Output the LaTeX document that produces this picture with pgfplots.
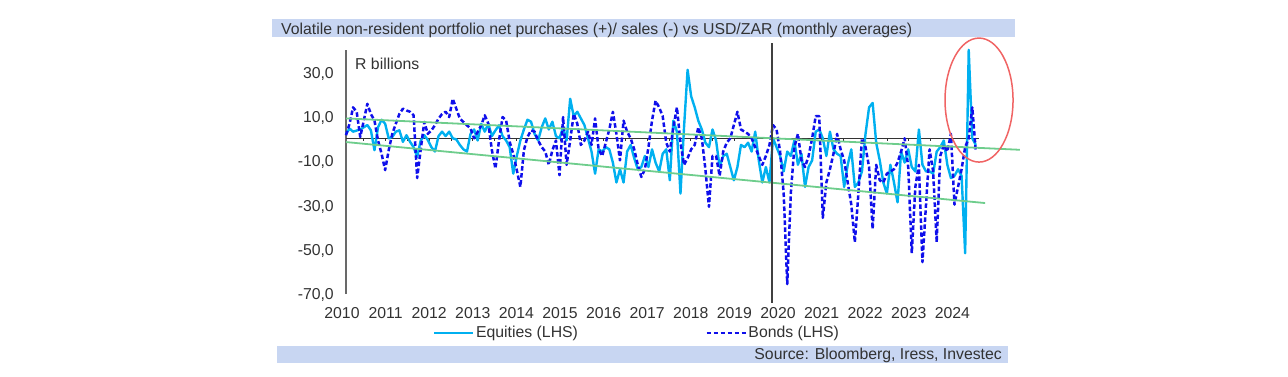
\documentclass[border=0pt]{standalone}
\usepackage{pgfplots}
\usepackage{pgfplotstable}
\pgfplotsset{compat=1.18}
\usepackage{fontspec}
\setmainfont{Liberation Sans}
\definecolor{eq}{RGB}{0,176,240}
\definecolor{bd}{RGB}{15,15,235}
\definecolor{tr}{RGB}{110,205,140}
\definecolor{barc}{RGB}{200,214,242}
\definecolor{txt}{RGB}{50,50,50}
\definecolor{ax}{RGB}{105,105,105}
\definecolor{ell}{RGB}{240,100,100}

\pgfplotstableread{
m E B
0 2 1.4
1 4.4 6.6
2 3 14
3 3.5 12
4 4 0.6
5 5 8
6 6 15.6
7 3.6 11
8 -5.4 8
9 5 -1
10 8.4 -7
11 6.6 -14.4
12 0 -5.4
13 0.6 2
14 3 6.6
15 3.6 11
16 -1.6 13.4
17 1.4 12.6
18 -1.6 12
19 -4 10.4
20 -8.4 -18
21 -1 -5
22 1.4 7.4
23 -0.8 2
24 -4 3.6
25 -6 5.9
26 1 8.9
27 3 11
28 1 12
29 3 9.6
30 0 17.9
31 -0.5 13.4
32 -3 8.9
33 -5 7.4
34 -6 5.9
35 2 4.4
36 4 0
37 -1 2.9
38 6.6 5.9
39 3 10.4
40 6.6 6.6
41 1 -5.4
42 3.6 -13.7
43 5.9 -1
44 1 9.6
45 -1 8
46 -4 -1.6
47 -16 -7
48 -8 -14.4
49 -1 -22
50 4 -5.4
51 8.4 0.6
52 7.5 3.6
53 2 3
54 -1 -1
55 5 -4
56 9 -6
57 4 -12
58 7.5 -5.4
59 1 -1
60 0 -16.7
61 5 9.6
62 -1 -12
63 17.9 -1
64 10 11
65 12 6.6
66 9 -3
67 6 -1
68 0 3
69 -6 -3
70 -16 9
71 -5 -5
72 -6 -8
73 -4 -2
74 -5 4
75 -11 12
76 -20 2
77 -14 -10
78 -20 8
79 -6 3
80 -3 0
81 -9 -5
82 -14 -12
83 -13 -17.5
84 -8 -14
85 -13 -4
86 -5 8
87 -11 17
88 -15 14
89 -7 10
90 -5 -2
91 -19 -6
92 8 5
93 3 14
94 -25 -2
95 5 -12
96 31 -9
97 19 -5
98 14 -3
99 8 5
100 4 0
101 -2 -14
102 -4 -31
103 4 -8
104 -1 -8
105 -13 -17
106 -8 -6
107 -7 -2
108 -13 0
109 -19 6
110 -13 12
111 -3 4
112 -4 3
113 -2 2
114 -6 0
115 3 -4
116 -10 -8
117 -20 -12
118 -13 -8
119 -20 -3
120 0 6
121 -4 4
122 -8 -6
123 -15 -25
124 -6 -66
125 -8 -25
126 -1 -4
127 -12 2
128 -7 -10
129 -22 -13
130 -13 -8
131 -10 0
132 3 10
133 4 10
134 0 -36
135 -8 -20
136 3 -14
137 -5 -7
138 -7 2
139 -8 -5
140 -22 -10
141 -12 -20
142 -5 -30
143 -22 -47
144 -20 -25
145 -15 0
146 2 -4
147 14 -13
148 16 -41
149 -2 -12
150 -10 -19
151 -20 -20
152 -25 -16
153 -12 -15
154 -20 -14
155 -29 -11
156 -6 -6
157 -11 0
158 -5 -13
159 -13 -52
160 -15 -22
161 4 -12
162 -12 -56
163 -15 -30
164 -15 -5
165 -16 -15
166 -6 -47
167 -4 -8
168 -1 -3
169 -12 -6
170 -18 2
171 -17 -30
172 -14 -22
173 -17 -14
174 -52 -4
175 40 0
176 0 14
177 -3 -6
}\data

\begin{document}
\fontsize{15.8pt}{19pt}\selectfont
\begin{tikzpicture}[x=1pt,y=1pt]
\path[use as bounding box] (0,0) rectangle (1288,377);
\fill[barc] (272,339.5) rectangle (1015,358);
\fill[barc] (277,14.3) rectangle (1008,31);
\node[anchor=base west, inner sep=0pt, text=txt] at (281,342) {Volatile non-resident portfolio net purchases (+)/ sales (-) vs USD/ZAR (monthly averages)};
\node[anchor=base east, inner sep=0pt, text=txt] at (1002,17) {Source: Bloomberg, Iress, Investec};
\node[anchor=base west, inner sep=0pt, text=txt] at (355,307) {R billions};
\begin{axis}[
  at={(338.88pt,84pt)}, anchor=south west, scale only axis,
  width=683.2pt, height=243.1pt,
  xmin=-2, xmax=190, ymin=-70, ymax=40, clip=false,
  axis line style={draw=none},
  major tick length=0pt,
  xtick={-1.124,11.129,23.382,35.635,47.888,60.141,72.394,84.647,96.900,109.153,121.406,133.659,145.912,158.165,170.418},
  xticklabels={2010,2011,2012,2013,2014,2015,2016,2017,2018,2019,2020,2021,2022,2023,2024},
  ytick={-70,-50,-30,-10,10,30},
  yticklabels={{-70,0},{-50,0},{-30,0},{-10,0},{10,0},{30,0}},
  tick label style={text=txt, font=\fontsize{15.8pt}{19pt}\selectfont},
  xticklabel style={anchor=base, inner sep=0pt, yshift=-26pt},
  yticklabel style={anchor=base east, inner sep=0pt, xshift=-4.9pt, yshift=-6.5pt},
  legend columns=2,
  legend image code/.code={\draw[#1] (0pt,0pt) -- (39pt,0pt);},
  legend style={draw=none, fill=none, at={(0.1378,-0.1645)}, anchor=west, inner sep=0pt,
     nodes={inner sep=1.5pt, text=txt}, font=\fontsize{15.8pt}{19pt}\selectfont,
     /tikz/every even column/.append style={column sep=126pt}},
]
\addplot[ax, line width=2pt, forget plot] coordinates {(0,-70.5) (0,40)};
\addplot[black!80, line width=1.5pt, forget plot] coordinates {(0,0) (177.8,0)};
\addplot[black!80, line width=1pt, ycomb, forget plot] coordinates {
(5.003,-1.4)(11.129,-1.4)(17.256,-1.4)(23.382,-1.4)(29.509,-1.4)(35.635,-1.4)(41.762,-1.4)(47.888,-1.4)(54.015,-1.4)(60.141,-1.4)(66.268,-1.4)(72.394,-1.4)(78.521,-1.4)(84.647,-1.4)(90.774,-1.4)(96.900,-1.4)(103.027,-1.4)(109.153,-1.4)(115.280,-1.4)(121.406,-1.4)(127.533,-1.4)(133.659,-1.4)(139.786,-1.4)(145.912,-1.4)(152.039,-1.4)(158.165,-1.4)(164.292,-1.4)(170.418,-1.4)(176.545,-1.4)};
\addplot[eq, line width=2.4pt, line join=round] table[x=m, y=E] {\data};
\addlegendentry{Equities (LHS)}
\addplot[bd, line width=2.5pt, dash pattern=on 4.5pt off 2.5pt, line join=round] table[x=m, y=B] {\data};
\addlegendentry{Bonds (LHS)}
\addplot[tr, line width=1.8pt, forget plot] coordinates {(0,9) (189.4,-5.2)};
\addplot[tr, line width=1.8pt, forget plot] coordinates {(0,-1.7) (179.6,-29.3)};
\addplot[black!75, line width=2pt, forget plot] coordinates {(119.8,43.1) (119.8,-74.5)};
\draw[ell, line width=1.5pt] (axis cs:177.9,17.3) ellipse [x radius=34pt, y radius=62pt];
\end{axis}
\end{tikzpicture}
\end{document}
